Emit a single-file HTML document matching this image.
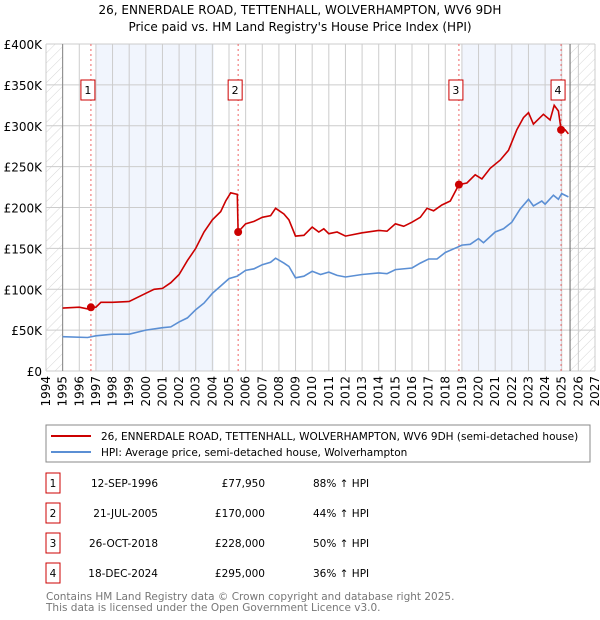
<!DOCTYPE html>
<html><head><meta charset="utf-8"><style>
body{margin:0;background:#fff;width:600px;height:620px;overflow:hidden;font-family:"DejaVu Sans","Liberation Sans",sans-serif;}
svg{position:absolute;left:0;top:0}
</style></head><body>
<svg id="c" width="600" height="620" xmlns="http://www.w3.org/2000/svg">
<defs><pattern id="hatch" width="7" height="7" patternUnits="userSpaceOnUse" patternTransform="rotate(45)"><line x1="0" y1="0" x2="0" y2="7" stroke="#ccc" stroke-width="0.8"/></pattern></defs>
<text x="300" y="14" text-anchor="middle" font-size="12">26, ENNERDALE ROAD, TETTENHALL, WOLVERHAMPTON, WV6 9DH</text>
<text x="300" y="31" text-anchor="middle" font-size="12">Price paid vs. HM Land Registry's House Price Index (HPI)</text>
<g id="plot"></g>
<rect x="46" y="425" width="544" height="37" fill="none" stroke="#888"/>
<line x1="51" y1="436" x2="91" y2="436" stroke="#cc0000" stroke-width="2"/>
<text x="101" y="440" font-size="10.5">26, ENNERDALE ROAD, TETTENHALL, WOLVERHAMPTON, WV6 9DH (semi-detached house)</text>
<line x1="51" y1="452" x2="91" y2="452" stroke="#5b8fd4" stroke-width="2"/>
<text x="101" y="456" font-size="10.5">HPI: Average price, semi-detached house, Wolverhampton</text>
<g id="table" font-size="10.5"></g>
<text x="46" y="600" font-size="10.5" fill="#777">Contains HM Land Registry data © Crown copyright and database right 2025.</text>
<text x="46" y="611" font-size="10.5" fill="#777">This data is licensed under the Open Government Licence v3.0.</text>
</svg>
<script>
const hpiYears=[1995,1996.5,1997,1998,1999,2000,2001,2001.5,2002,2002.5,2003,2003.5,2004,2004.5,2005,2005.5,2006,2006.5,2007,2007.5,2007.8,2008.3,2008.6,2009,2009.5,2010,2010.5,2011,2011.5,2012,2013,2014,2014.5,2015,2016,2016.5,2017,2017.5,2018,2018.8,2019,2019.5,2020,2020.3,2021,2021.5,2022,2022.5,2023,2023.3,2023.8,2024,2024.5,2024.8,2025,2025.4];
const hpiValues=[42000,41000,43000,45000,45000,50000,53000,54000,60000,65000,75000,83000,95000,104000,113000,116000,123000,125000,130000,133000,138000,132000,128000,114000,116000,122000,118000,121000,117000,115000,118000,120000,119000,124000,126000,132000,137000,137000,145000,152000,154000,155000,162000,157000,170000,174000,182000,198000,210000,202000,208000,204000,215000,210000,217000,213000];
const propYears=[1995,1996,1996.5,1996.7,1997,1997.3,1998,1999,2000,2000.5,2001,2001.5,2002,2002.5,2003,2003.5,2004,2004.5,2004.8,2005.1,2005.5,2005.55,2006,2006.5,2007,2007.5,2007.8,2008.3,2008.6,2009,2009.5,2010,2010.4,2010.7,2011,2011.5,2012,2013,2014,2014.5,2015,2015.5,2016,2016.5,2016.9,2017.3,2017.8,2018.3,2018.82,2019.3,2019.8,2020.2,2020.7,2021.3,2021.8,2022.3,2022.7,2023,2023.3,2023.6,2023.9,2024.3,2024.55,2024.8,2024.96,2025.2,2025.4];
const propValues=[77000,78000,76000,77950,78000,84000,84000,85000,95000,100000,101000,108000,118000,135000,150000,170000,185000,195000,208000,218000,216000,170000,180000,183000,188000,190000,199000,192000,185000,165000,166000,176000,170000,174000,168000,170000,165000,169000,172000,171000,180000,177000,182000,188000,199000,196000,203000,208000,228000,230000,240000,235000,248000,258000,270000,295000,310000,316000,302000,308000,314000,307000,325000,318000,295000,295000,290000];
const saleLabels=["1","2","3","4"];
const saleYears=[1996.7,2005.55,2018.82,2024.96];
const saleValues=[77950,170000,228000,295000];
const saleDates=["12-SEP-1996","21-JUL-2005","26-OCT-2018","18-DEC-2024"];
const salePrices=["£77,950","£170,000","£228,000","£295,000"];
const saleHpi=["88% ↑ HPI","44% ↑ HPI","50% ↑ HPI","36% ↑ HPI"];
const yTicks=[0,50000,100000,150000,200000,250000,300000,350000,400000];
const yTickLabels=["£0","£50K","£100K","£150K","£200K","£250K","£300K","£350K","£400K"];
const bands=[[1997,2004.1],[2019,2025]];

const X0=46,X1=595,Y0=371,Y1=44;
const x=y=>X0+(y-1994)/33*(X1-X0);
const yv=v=>Y0-v/400000*(Y0-Y1);
const NS="http://www.w3.org/2000/svg";
const plot=document.getElementById('plot');
function mk(tag,attrs,parent){const e=document.createElementNS(NS,tag);for(const k in attrs)e.setAttribute(k,attrs[k]);(parent||plot).appendChild(e);return e;}
bands.forEach(b=>{const r=mk('rect',{x:x(b[0]),y:Y1,width:x(b[1])-x(b[0]),height:Y0-Y1,fill:'#f1f5fd'});

});
let h=mk('rect',{x:X0,y:Y1,width:x(1995)-X0,height:Y0-Y1,fill:'url(#hatch)'});


h=mk('rect',{x:x(2025.5),y:Y1,width:X1-x(2025.5),height:Y0-Y1,fill:'url(#hatch)'});


for(let yr=1994;yr<=2027;yr++){
 const l=mk('line',{x1:x(yr),x2:x(yr),y1:Y1,y2:Y0,stroke:'#ccc'});
 
 
 const t=mk('text',{x:0,y:0,'font-size':12,'text-anchor':'end',transform:`translate(${x(yr)+4},${Y0+5}) rotate(-90)`});
 t.textContent=yr;
 
 
}
yTicks.forEach((v,i)=>{
 const l=mk('line',{x1:X0,x2:X1,y1:yv(v),y2:yv(v),stroke:'#ccc'});
 
 
 const t=mk('text',{x:X0-4,y:yv(v)+5,'font-size':12,'text-anchor':'end'});
 t.textContent=yTickLabels[i];
 
 
});
let a=mk('line',{x1:x(1995),x2:x(1995),y1:Y1,y2:Y0,stroke:'#888'});


a=mk('line',{x1:x(2025.5),x2:x(2025.5),y1:Y1,y2:Y0,stroke:'#666'});


saleYears.forEach((s,i)=>{
 const l=mk('line',{x1:x(s),x2:x(s),y1:Y1,y2:Y0,stroke:'#e66','stroke-dasharray':'2,3'});
 
 
});
function path(xs,vs,col,name){const d=xs.map((t,i)=>(i?'L':'M')+x(t).toFixed(1)+','+yv(vs[i]).toFixed(1)).join('');
 const p=mk('path',{d,fill:'none',stroke:col,'stroke-width':1.6});
 
 }
path(hpiYears,hpiValues,'#5b8fd4','hpi-line');
path(propYears,propValues,'#cc0000','property-line');
saleYears.forEach((s,i)=>{
 const c=mk('circle',{cx:x(s),cy:yv(saleValues[i]),r:4,fill:'#cc0000'});
 
 
 const r=mk('rect',{x:x(s)-10,y:80,width:14,height:20,fill:'#fff',stroke:'#cc0000'});
 
 
 const t=mk('text',{x:x(s)-3,y:94,'font-size':11,'text-anchor':'middle'});
 t.textContent=saleLabels[i];
 
 
});
const tb=document.getElementById('table');
saleLabels.forEach((lab,i)=>{
 const cy=483+i*30;
 const r=mk('rect',{x:46,y:cy-10,width:14,height:20,fill:'#fff',stroke:'#cc0000'},tb);
 
 
 const vals=[[53,'middle',lab,'table-index'],[158,'end',saleDates[i],'table-date'],[265,'end',salePrices[i],'table-price'],[313,'start',saleHpi[i],'table-hpi']];
 vals.forEach(v=>{const t=mk('text',{x:v[0],y:cy+4,'text-anchor':v[1]},tb);t.textContent=v[2];
 
 });
});
</script>
</body></html>
